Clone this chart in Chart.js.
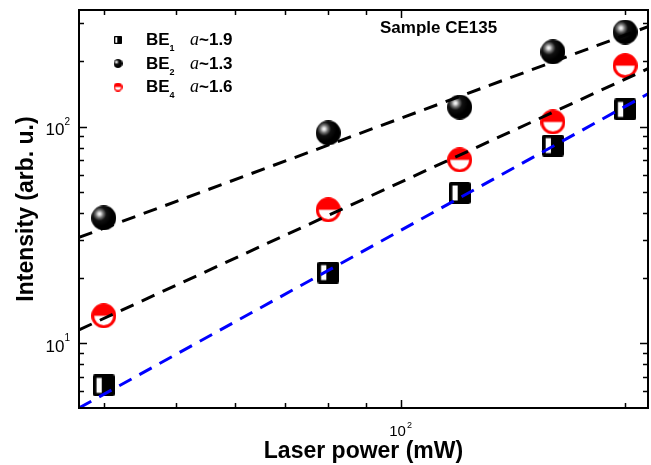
<!DOCTYPE html>
<html>
<head>
<meta charset="utf-8">
<script src="https://cdn.jsdelivr.net/npm/chart.js@4"></script>
<style>body{margin:0;background:#fff}</style>
</head>
<body>
<canvas id="c" width="651" height="465"></canvas>
<script>
// laser power (mW)
const power = [40, 80, 120, 160, 200];
// intensity (arb. u.)
const be1 = [6.4, 21.2, 49.4, 81.7, 120];
const be2 = [37.9, 93.5, 123, 221, 273];
const be4 = [13.4, 41.3, 70.2, 105, 191];
// fit lines, read at both ends of the x range
const fitX = [37.06, 214.6];
const fit1 = [5.03, 141.6];
const fit2 = [30.8, 289];
const fit4 = [11.54, 185];
// legend
const names = ['BE', 'BE', 'BE'];
const subs = ['1', '2', '4'];
const alphas = ['~1.9', '~1.3', '~1.6'];
const xTicks = [100];
const yTicks = [10, 100];

const SANS = '"Liberation Sans", Arial, sans-serif';

function pts(xs, ys) { return xs.map((x, i) => ({ x: x, y: ys[i] })); }

function mkCanvas(s) {
    const c = document.createElement('canvas');
    c.width = s; c.height = s;
    return c;
}
// square: black with white stripe on the left
function squareMark(s) {
    const c = mkCanvas(s), g = c.getContext('2d');
    g.fillStyle = '#000';
    g.beginPath(); g.roundRect(0, 0, s, s, s * 0.1); g.fill();
    g.fillStyle = '#fff';
    g.fillRect(s * 0.17, s * 0.16, s * 0.24, s * 0.68);
    return c;
}
// shaded black ball
function ballMark(s) {
    const c = mkCanvas(s), g = c.getContext('2d');
    const r = s / 2;
    const gr = g.createRadialGradient(r * 0.66, r * 0.68, 0, r * 0.66, r * 0.68, r);
    gr.addColorStop(0, '#fff');
    gr.addColorStop(0.12, '#ddd');
    gr.addColorStop(0.3, '#777');
    gr.addColorStop(0.55, '#111');
    gr.addColorStop(1, '#000');
    g.fillStyle = gr;
    g.beginPath(); g.arc(r, r, r, 0, Math.PI * 2); g.fill();
    return c;
}
// red circle, top half filled
function halfMark(s, lw) {
    const c = mkCanvas(s), g = c.getContext('2d');
    const r = s / 2;
    g.fillStyle = '#fff';
    g.beginPath(); g.arc(r, r, r - lw / 2, 0, Math.PI * 2); g.fill();
    g.fillStyle = '#ff0000';
    g.beginPath(); g.arc(r, r, r - lw / 2, Math.PI, 0); g.closePath(); g.fill();
    g.strokeStyle = '#ff0000'; g.lineWidth = lw;
    g.beginPath(); g.arc(r, r, r - lw / 2, 0, Math.PI * 2); g.stroke();
    return c;
}

const mk1 = squareMark(22), mk2 = ballMark(25), mk4 = halfMark(25, 3);
const legMarks = [squareMark(8), ballMark(9), halfMark(9, 1.5)];

const frame = {
    id: 'frame',
    afterDatasetsDraw(chart) {
        const g = chart.ctx, a = chart.chartArea;
        const xs = chart.scales.x, ys = chart.scales.y;
        g.save();
        g.strokeStyle = '#000';
        g.lineWidth = 2;
        g.strokeRect(a.left, a.top, a.right - a.left, a.bottom - a.top);
        g.lineWidth = 1.5;
        g.beginPath();
        for (let d = 0; d <= 3; d++) {
            for (let k = 1; k <= 9; k++) {
                const v = k * Math.pow(10, d);
                const len = k === 1 ? 8 : 5;
                if (v >= xs.min && v <= xs.max) {
                    const px = Math.round(xs.getPixelForValue(v)) + 0.5;
                    g.moveTo(px, a.bottom); g.lineTo(px, a.bottom - len);
                    g.moveTo(px, a.top); g.lineTo(px, a.top + len);
                }
                if (v >= ys.min && v <= ys.max) {
                    const py = Math.round(ys.getPixelForValue(v)) + 0.5;
                    g.moveTo(a.left, py); g.lineTo(a.left + len, py);
                    g.moveTo(a.right, py); g.lineTo(a.right - len, py);
                }
            }
        }
        g.stroke();
        g.restore();
    },
    afterDraw(chart) {
        const g = chart.ctx, a = chart.chartArea;
        const xs = chart.scales.x, ys = chart.scales.y;
        g.save();
        g.fillStyle = '#000';
        // tick labels 10^n
        g.textBaseline = 'alphabetic';
        yTicks.forEach(v => {
            const py = ys.getPixelForValue(v);
            const e = String(Math.round(Math.log10(v)));
            g.font = '10px ' + SANS;
            g.textAlign = 'right';
            g.fillText(e, 70, py - 2);
            const ew = g.measureText(e).width;
            g.font = '17px ' + SANS;
            g.fillText('10', 70 - ew, py + 8.5);
        });
        xTicks.forEach(v => {
            const px = xs.getPixelForValue(v);
            const e = String(Math.round(Math.log10(v)));
            g.font = '15px ' + SANS;
            g.textAlign = 'left';
            const w = g.measureText('10').width;
            g.fillText('10', px - w / 2 - 3, 436);
            g.font = '9px ' + SANS;
            g.fillText(e, px + w / 2 - 2, 427.5);
        });
        // axis titles
        g.font = 'bold 23px ' + SANS;
        g.textAlign = 'center';
        g.fillText('Laser power (mW)', (a.left + a.right) / 2, 457.5);
        g.save();
        g.translate(33, (a.top + a.bottom) / 2);
        g.rotate(-Math.PI / 2);
        g.fillText('Intensity (arb. u.)', 0, 0);
        g.restore();
        // sample name
        g.font = 'bold 17px ' + SANS;
        g.textAlign = 'left';
        g.fillText('Sample CE135', 380, 33);
        // legend
        names.forEach((n, i) => {
            const base = 45 + i * 23.5;
            const m = legMarks[i];
            g.drawImage(m, 118 - m.width / 2, base - 5 - m.height / 2);
            g.font = 'bold 17px ' + SANS;
            g.fillText(n, 146, base);
            const w = g.measureText(n).width;
            g.font = 'bold 9px ' + SANS;
            g.fillText(subs[i], 146 + w, base + 6);
            g.font = 'italic 18px "Liberation Serif", "Times New Roman", serif';
            g.fillText('a', 190, base);
            const aw = g.measureText('a').width;
            g.font = 'bold 17px ' + SANS;
            g.fillText(alphas[i], 190 + aw, base);
        });
        g.restore();
    }
};

function fitSet(ys, color) {
    return {
        type: 'line', data: pts(fitX, ys), borderColor: color, borderWidth: 3,
        borderDash: [14, 9], pointRadius: 0, fill: false, order: 0
    };
}
function markSet(ys, mark) {
    return {
        type: 'scatter', data: pts(power, ys), pointStyle: mark,
        pointRadius: 12, order: 1
    };
}

new Chart(document.getElementById('c'), {
    data: {
        datasets: [
            fitSet(fit1, '#0000ff'),
            fitSet(fit2, '#000'),
            fitSet(fit4, '#000'),
            markSet(be1, mk1),
            markSet(be2, mk2),
            markSet(be4, mk4)
        ]
    },
    options: {
        responsive: false,
        animation: false,
        layout: { autoPadding: false, padding: { left: 79, right: 3, top: 10, bottom: 57 } },
        scales: {
            x: { type: 'logarithmic', min: 37.06, max: 214.6, display: false },
            y: { type: 'logarithmic', min: 5.03, max: 345, display: false }
        },
        plugins: { legend: { display: false }, tooltip: { enabled: false } }
    },
    plugins: [frame]
});
</script>
</body>
</html>
